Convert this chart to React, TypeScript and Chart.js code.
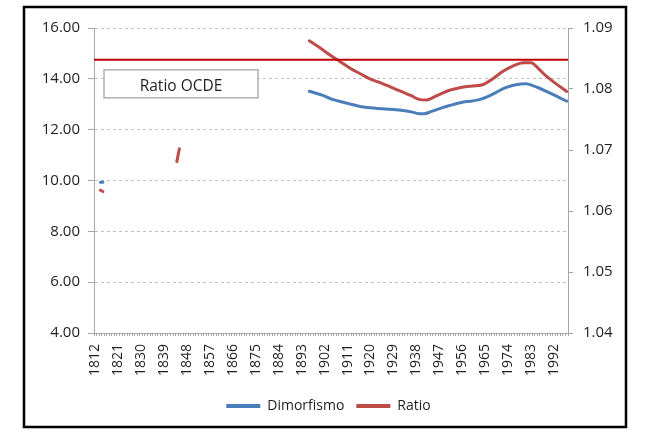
import { useEffect, useRef } from "react";
import { Chart, registerables } from "chart.js";

Chart.register(...registerables);

const FIRST_YEAR = 1812;
const LAST_YEAR = 1997;
const years: string[] = Array.from(
  { length: LAST_YEAR - FIRST_YEAR + 1 },
  (_, i) => String(FIRST_YEAR + i)
);

// Dimorfismo (left axis). null = gap in the series
const dimorfismoYears = [
  1814, 1815, 1816,
  1896, 1901, 1905, 1910, 1914, 1918, 1925, 1932, 1936, 1939, 1941, 1944,
  1948, 1951, 1956, 1960, 1963, 1966, 1969, 1973, 1977, 1981, 1984, 1987,
  1989, 1993, 1997,
];
const dimorfismoValues: (number | null)[] = [
  9.93, 9.93, null,
  13.51, 13.36, 13.19, 13.06, 12.96, 12.88, 12.82, 12.76, 12.7, 12.63, 12.63,
  12.72, 12.86, 12.95, 13.08, 13.13, 13.19, 13.3, 13.45, 13.65, 13.77, 13.81,
  13.72, 13.6, 13.51, 13.32, 13.12,
];

// Ratio (right axis)
const ratioYears = [
  1814, 1815, 1816,
  1844, 1845, 1846,
  1896, 1900, 1904, 1908, 1912, 1916, 1920, 1924, 1928, 1932, 1936, 1939,
  1942, 1945, 1948, 1951, 1956, 1960, 1964, 1968, 1972, 1976, 1980, 1983,
  1986, 1989, 1993, 1997,
];
const ratioValues: (number | null)[] = [
  1.0634, 1.0632, null,
  1.0681, 1.0702, null,
  1.0879, 1.0868, 1.0856, 1.0845, 1.0834, 1.0825, 1.0816, 1.081, 1.0803,
  1.0796, 1.0789, 1.0783, 1.0782, 1.0787, 1.0793, 1.0798, 1.0803, 1.0805,
  1.0807, 1.0817, 1.0829, 1.0838, 1.0843, 1.0843, 1.0833, 1.0821, 1.0808,
  1.0796,
];

const ocdeRatio = 1.0848;
const ocdeLabel = "Ratio OCDE";

const leftTicks = [4, 6, 8, 10, 12, 14, 16];
const rightTicks = [1.04, 1.05, 1.06, 1.07, 1.08, 1.09];

const BLUE = "#4A7EBB";
const RED = "#BE4B48";
const OCDE_RED = "#C00000";
const AXIS_GRAY = "#A6A6A6";
const TEXT = "#1F1F1F";
const FONT = "'Open Sans', sans-serif";

const framePlugin = {
  id: "frame",
  beforeDraw(chart: any) {
    const { ctx } = chart;
    ctx.save();
    ctx.fillStyle = "#ffffff";
    ctx.fillRect(0, 0, chart.width, chart.height);
    ctx.strokeStyle = "#000000";
    ctx.lineWidth = 2.5;
    ctx.strokeRect(24, 7, 602, 420);
    ctx.restore();
  },
};

const ocdePlugin = {
  id: "ocde",
  afterDatasetsDraw(chart: any) {
    const { ctx, chartArea } = chart;
    const y = chart.scales.y1.getPixelForValue(ocdeRatio);
    ctx.save();
    ctx.strokeStyle = OCDE_RED;
    ctx.lineWidth = 2;
    ctx.beginPath();
    ctx.moveTo(chartArea.left, y);
    ctx.lineTo(chartArea.right, y);
    ctx.stroke();
    ctx.restore();
  },
  afterDraw(chart: any) {
    const { ctx, chartArea } = chart;
    const x = chartArea.left + 10;
    const yTop = chart.scales.y.getPixelForValue(14) - 9;
    const w = 154;
    const h = 28;
    ctx.save();
    ctx.fillStyle = "#ffffff";
    ctx.fillRect(x, yTop, w, h);
    ctx.strokeStyle = "#B0B0B0";
    ctx.lineWidth = 1.5;
    ctx.strokeRect(x, yTop, w, h);
    ctx.fillStyle = TEXT;
    ctx.font = `15.5px ${FONT}`;
    ctx.textAlign = "center";
    ctx.textBaseline = "middle";
    ctx.fillText(ocdeLabel, x + w / 2, yTop + h / 2 + 3);
    ctx.restore();
  },
};

export default function App() {
  const canvasRef = useRef<HTMLCanvasElement | null>(null);

  useEffect(() => {
    const canvas = canvasRef.current;
    if (!canvas) return;

    const dimData = dimorfismoYears.map((yr, i) => ({
      x: String(yr),
      y: dimorfismoValues[i],
    }));
    const ratioData = ratioYears.map((yr, i) => ({
      x: String(yr),
      y: ratioValues[i],
    }));

    const chart = new Chart(canvas, {
      type: "line",
      data: {
        labels: years,
        datasets: [
          {
            label: "Dimorfismo",
            data: dimData as any,
            yAxisID: "y",
            borderColor: BLUE,
            backgroundColor: BLUE,
            borderWidth: 3,
            pointRadius: 0,
            borderCapStyle: "round",
            cubicInterpolationMode: "monotone",
            spanGaps: false,
          },
          {
            label: "Ratio",
            data: ratioData as any,
            yAxisID: "y1",
            borderColor: RED,
            backgroundColor: RED,
            borderWidth: 3,
            pointRadius: 0,
            borderCapStyle: "round",
            cubicInterpolationMode: "monotone",
            spanGaps: false,
          },
        ],
      },
      options: {
        responsive: false,
        animation: false,
        layout: { padding: { left: 30, right: 18, top: 28, bottom: 21 } },
        font: { family: FONT },
        plugins: {
          tooltip: { enabled: false },
          legend: {
            position: "bottom",
            labels: {
              boxWidth: 34,
              boxHeight: 4,
              padding: 12,
              color: TEXT,
              font: { size: 14, family: FONT },
              generateLabels: (c: any) =>
                c.data.datasets.map((ds: any, i: number) => ({
                  text: ds.label,
                  fillStyle: ds.borderColor,
                  strokeStyle: ds.borderColor,
                  lineWidth: 0,
                  hidden: false,
                  datasetIndex: i,
                  fontColor: TEXT,
                })),
            },
          },
        },
        scales: {
          x: {
            type: "category",
            offset: true,
            grid: {
              offset: true,
              drawOnChartArea: false,
              drawTicks: true,
              tickLength: 3,
              color: AXIS_GRAY,
              tickColor: AXIS_GRAY,
            },
            border: { display: true, color: AXIS_GRAY, width: 1 },
            ticks: {
              autoSkip: false,
              minRotation: 90,
              maxRotation: 90,
              padding: 8,
              color: TEXT,
              font: { size: 14, family: FONT },
              callback: (_v: any, idx: number) =>
                idx % 9 === 0 ? years[idx] : "",
            },
            afterFit: (s: any) => {
              s.height = 54;
            },
          },
          y: {
            type: "linear",
            position: "left",
            min: 4,
            max: 16,
            afterBuildTicks: (s: any) => {
              s.ticks = leftTicks.map((v) => ({ value: v }));
            },
            grid: {
              color: "#BFBFBF",
              lineWidth: 1,
              drawTicks: true,
              tickLength: 6,
              tickColor: AXIS_GRAY,
            },
            border: { display: true, color: AXIS_GRAY, width: 1, dash: [3, 3] },
            ticks: {
              padding: 8,
              color: TEXT,
              font: { size: 15, family: FONT },
              callback: (v: any) => Number(v).toFixed(2),
            },
            afterFit: (s: any) => {
              s.width = 64;
            },
          },
          y1: {
            type: "linear",
            position: "right",
            min: 1.04,
            max: 1.09,
            afterBuildTicks: (s: any) => {
              s.ticks = rightTicks.map((v) => ({ value: v }));
            },
            grid: {
              drawOnChartArea: false,
              drawTicks: true,
              tickLength: 5,
              color: AXIS_GRAY,
              tickColor: AXIS_GRAY,
            },
            border: { display: true, color: AXIS_GRAY, width: 1 },
            ticks: {
              padding: 10,
              color: TEXT,
              font: { size: 15, family: FONT },
              callback: (v: any) => Number(v).toFixed(2),
            },
            afterFit: (s: any) => {
              s.width = 59;
            },
          },
        },
      },
      plugins: [framePlugin, ocdePlugin],
    });

    return () => {
      chart.destroy();
    };
  }, []);

  return (
    <div style={{ position: "absolute", left: 0, top: 0, width: 645, height: 444 }}>
      <canvas
        ref={canvasRef}
        width={645}
        height={444}
        style={{ display: "block", width: 645, height: 444 }}
      />
    </div>
  );
}
